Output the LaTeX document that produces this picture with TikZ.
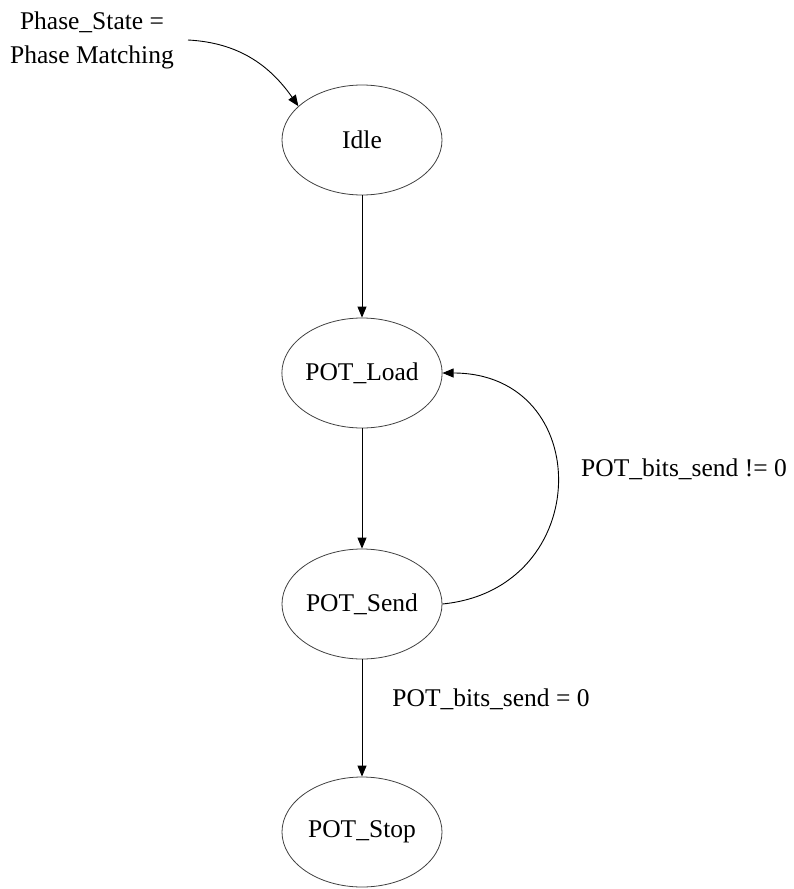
\documentclass[tikz,border=0pt]{standalone}
\usepackage{fontspec}
\setmainfont{Liberation Serif}
\usetikzlibrary{arrows.meta,shapes.geometric}
\tikzstyle{state} = [draw=black!75, line width=0.8pt, ellipse, minimum width=160pt, minimum height=110pt, inner sep=0pt]
\tikzstyle{trans} = [draw=black, line width=0.9pt, -{Triangle[length=11pt,width=9pt]}]
\tikzstyle{lbl} = [inner sep=0pt, align=center]

\begin{document}
\begin{tikzpicture}[x=1pt,y=1pt,font=\fontsize{25.5}{34}\selectfont]
  \useasboundingbox (0,0) rectangle (793,-889);
  \node[state](idle) at (362,-140){Idle};
  \node[state](load) at (362,-373){POT\_Load};
  \node[state](send) at (362,-604){POT\_Send};
  \node[state](stop) at (362,-832){POT\_Stop};
  \node[lbl](init) at (92,-40){Phase\_State =\\Phase Matching};
  \node[lbl](again) at (684,-469){POT\_bits\_send != 0};
  \node[lbl](done) at (491,-699){POT\_bits\_send = 0};
  \coordinate (start) at (188,-40);
  \draw[trans](start) to[out=-3,in=125] (idle.152);
  \draw[trans](idle)--(load);
  \draw[trans](load)--(send);
  \draw[trans](send)--(stop);
  \draw[trans](send.east) .. controls +(153,15) and +(153,0) .. (load.east);
\end{tikzpicture}
\end{document}
